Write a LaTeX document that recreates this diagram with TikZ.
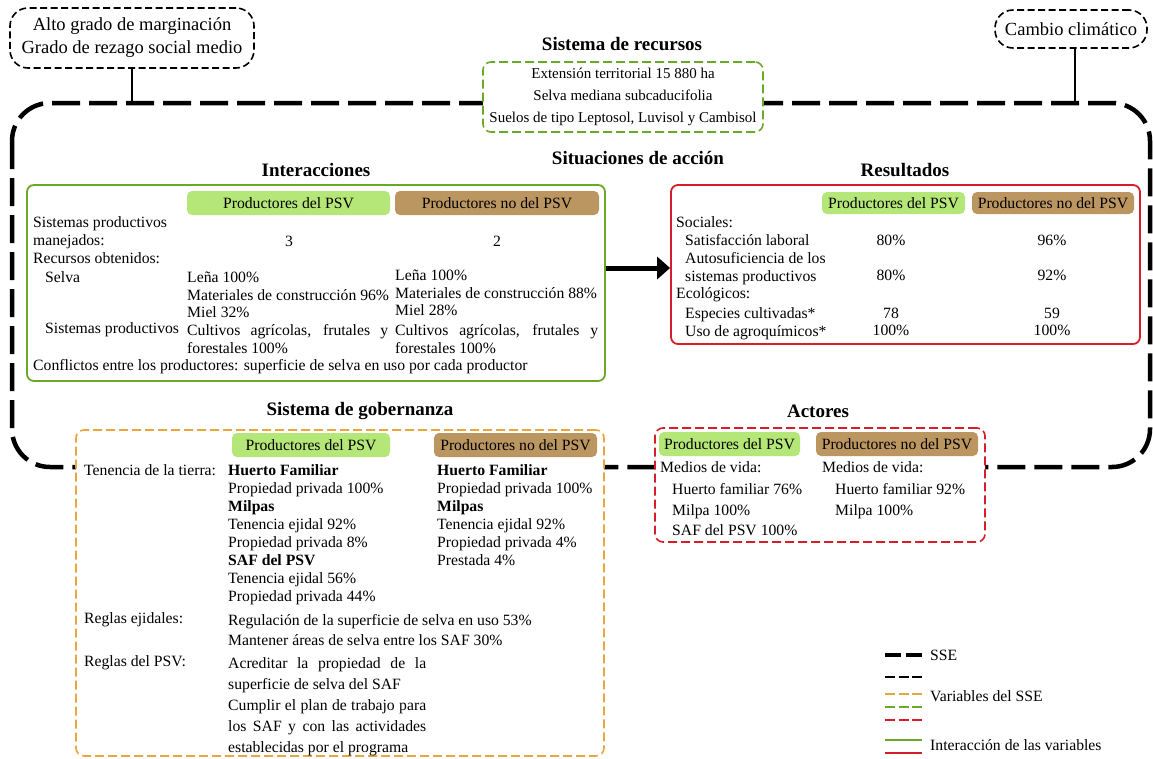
\documentclass[tikz,border=0pt]{standalone}
\usepackage{fontspec}
\setmainfont{Liberation Serif}
\usetikzlibrary{arrows.meta}
\definecolor{gline}{RGB}{106,168,40}
\definecolor{gpill}{RGB}{180,230,120}
\definecolor{bpill}{RGB}{188,150,96}
\definecolor{rline}{RGB}{212,30,40}
\definecolor{oline}{RGB}{232,166,62}
\begin{document}
\begin{tikzpicture}[x=1pt,y=-1pt,
  every node/.style={inner sep=0pt, font=\fontsize{15.7}{17.8}\selectfont},
  txt/.style={anchor=north west, align=left, yshift=-2.5pt},
  lbl/.style={anchor=west},
  ttl/.style={font=\fontsize{19}{22}\selectfont\bfseries},
  pill/.style={rounded corners=5pt, minimum height=24pt},
  gp/.style={pill, fill=gpill},
  bp/.style={pill, fill=bpill},
  sse/.style={line width=4.5pt, dash pattern=on 28pt off 9pt},
  extbox/.style={draw, line width=1.6pt, dash pattern=on 7pt off 3.5pt, rounded corners=18pt, align=center, fill=white, font=\fontsize{18.5}{23}\selectfont},
  varbox/.style={line width=1.6pt, dash pattern=on 9pt off 4pt, rounded corners=8pt, fill=white},
  intbox/.style={line width=1.8pt, rounded corners=7pt, fill=white},
  link/.style={line width=1.6pt},
  leg/.style={line width=2pt, dash pattern=on 10pt off 3.5pt}
]
\useasboundingbox (0,0) rectangle (1153,758);

% SSE big box
\coordinate (sseTL) at (12,103);
\coordinate (sseBR) at (1150,467);
\draw[sse, rounded corners=38pt] (sseTL) rectangle (sseBR);

% external factors
\node[extbox, minimum width=244pt, minimum height=60pt] (marg) at (132,38)
  {Alto grado de marginación\\Grado de rezago social medio};
\node[extbox, minimum width=152pt, minimum height=38pt] (clima) at (1071,29) {Cambio climático};
\draw[link] (marg.south) -- (marg.south |- sseTL);
\draw[link] ([xshift=4pt]clima.south) -- ([xshift=4pt]clima.south |- sseTL);

% Sistema de recursos
\node[ttl] (tRec) at (622,44) {Sistema de recursos};
\node[varbox, draw=gline, minimum width=280pt, minimum height=70pt, align=center,
  font=\fontsize{15}{22}\selectfont] (rec) at (623,97)
  {Extensión territorial 15 880 ha\\Selva mediana subcaducifolia\\Suelos de tipo Leptosol, Luvisol y Cambisol};

\node[ttl] (tSit) at (638,158) {Situaciones de acción};

% Interacciones
\node[ttl] (tInt) at (316,170) {Interacciones};
\node[intbox, draw=gline, minimum width=578pt, minimum height=196pt] (inter) at (316,283) {};
\node[gp, minimum width=203pt] (iG) at (288.5,203) {Productores del PSV};
\node[bp, minimum width=204pt] (iB) at (497,203) {Productores no del PSV};
\node[txt] (i1) at (33,214) {Sistemas productivos\\manejados:\\Recursos obtenidos:};
\node (i3) at (289,241) {3};
\node (i2) at (497,241) {2};
\node[lbl] (iSel) at (45,277) {Selva};
\node[txt] (iC1) at (187,269) {Leña 100\%\\Materiales de construcción 96\%\\Miel 32\%};
\node[txt] (iC2) at (395,267) {Leña 100\%\\Materiales de construcción 88\%\\Miel 28\%};
\node[lbl] (iSP) at (45,330) {Sistemas productivos};
\node[txt] (iD1) at (187,322) {\makebox[201pt][s]{Cultivos agrícolas, frutales y}\\forestales 100\%};
\node[txt] (iD2) at (395,322) {\makebox[203pt][s]{Cultivos agrícolas, frutales y}\\forestales 100\%};
\node[lbl] (iCon) at (33,367) {Conflictos entre los productores: superficie de selva en uso por cada productor};

% Resultados
\node[ttl] (tRes) at (905,170) {Resultados};
\node[intbox, draw=rline, minimum width=469pt, minimum height=159pt] (res) at (905.5,264.5) {};
\node[gp, minimum width=143pt, minimum height=22pt] (rG) at (893.5,203) {Productores del PSV};
\node[bp, minimum width=162pt, minimum height=22pt] (rB) at (1053,203) {Productores no del PSV};
\node[lbl] (rSoc) at (676,222) {Sociales:};
\node[txt] (r1) at (685,232) {Satisfacción laboral\\Autosuficiencia de los\\sistemas productivos};
\node[lbl] (rEco) at (676,295) {Ecológicos:};
\node[txt] (r2) at (685,305) {Especies cultivadas*\\Uso de agroquímicos*};
\node (rA1) at (891,240) {80\%};
\node (rA2) at (891,275) {80\%};
\node (rA3) at (891,313) {78};
\node (rA4) at (891,330) {100\%};
\node (rB1) at (1052,240) {96\%};
\node (rB2) at (1052,275) {92\%};
\node (rB3) at (1052,313) {59};
\node (rB4) at (1052,330) {100\%};

\draw[line width=5pt, -{Triangle[length=13pt,width=22pt]}]
  ([yshift=-3.5pt]inter.east |- res.west) -- ([yshift=-3.5pt]res.west);

% Sistema de gobernanza
\node[ttl] (tGob) at (360,411) {Sistema de gobernanza};
\node[varbox, draw=oline, minimum width=528pt, minimum height=326pt] (gob) at (340,593) {};
\node[gp, minimum width=158pt] (gG) at (311,445) {Productores del PSV};
\node[bp, minimum width=163pt] (gB) at (515.5,445) {Productores no del PSV};
\node[lbl] (gTen) at (84,470) {Tenencia de la tierra:};
\node[txt, font=\fontsize{15.7}{18}\selectfont] (gC1) at (228,462)
  {\textbf{Huerto Familiar}\\Propiedad privada 100\%\\\textbf{Milpas}\\Tenencia ejidal 92\%\\Propiedad privada 8\%\\\textbf{SAF del PSV}\\Tenencia ejidal 56\%\\Propiedad privada 44\%};
\node[txt, font=\fontsize{15.7}{18}\selectfont] (gC2) at (437,462)
  {\textbf{Huerto Familiar}\\Propiedad privada 100\%\\\textbf{Milpas}\\Tenencia ejidal 92\%\\Propiedad privada 4\%\\Prestada 4\%};
\node[lbl] (gEj) at (84,620) {Reglas ejidales:};
\node[txt, font=\fontsize{15.7}{20}\selectfont] (gEjT) at (228,612)
  {Regulación de la superficie de selva en uso 53\%\\Mantener áreas de selva entre los SAF 30\%};
\node[lbl] (gPSV) at (84,663) {Reglas del PSV:};
\node[txt, font=\fontsize{15.7}{21}\selectfont] (gPSVT) at (228,655)
  {\makebox[198pt][s]{Acreditar la propiedad de la}\\superficie de selva del SAF\\\makebox[198pt][s]{Cumplir el plan de trabajo para}\\\makebox[198pt][s]{los SAF y con las actividades}\\establecidas por el programa};

% Actores
\node[ttl] (tAct) at (818,411) {Actores};
\node[varbox, draw=rline, minimum width=330pt, minimum height=114pt] (act) at (820,485) {};
\node[gp, minimum width=141pt] (aG) at (729.5,444) {Productores del PSV};
\node[bp, minimum width=162pt] (aB) at (897,444) {Productores no del PSV};
\node[lbl] (aM1) at (660,467) {Medios de vida:};
\node[txt, font=\fontsize{15.7}{20.5}\selectfont] (aL1) at (672,481)
  {Huerto familiar 76\%\\Milpa 100\%\\SAF del PSV 100\%};
\node[lbl] (aM2) at (822,467) {Medios de vida:};
\node[txt, font=\fontsize{15.7}{20.5}\selectfont] (aL2) at (835,481)
  {Huerto familiar 92\%\\Milpa 100\%};

% Legend
\draw[line width=3.5pt, dash pattern=on 16pt off 5pt] (885,655) -- (922,655);
\draw[leg, black] (885,677) -- (922,677);
\draw[leg, oline] (885,694) -- (922,694);
\draw[leg, gline] (885,707) -- (922,707);
\draw[leg, rline] (885,720) -- (922,720);
\draw[line width=2pt, gline] (885,740) -- (922,740);
\draw[line width=2pt, rline] (885,753) -- (922,753);
\node[lbl] (lSSE) at (930,655) {SSE};
\node[lbl] (lVar) at (930,696) {Variables del SSE};
\node[lbl] (lInt) at (930,745) {Interacción de las variables};
\end{tikzpicture}
\end{document}
